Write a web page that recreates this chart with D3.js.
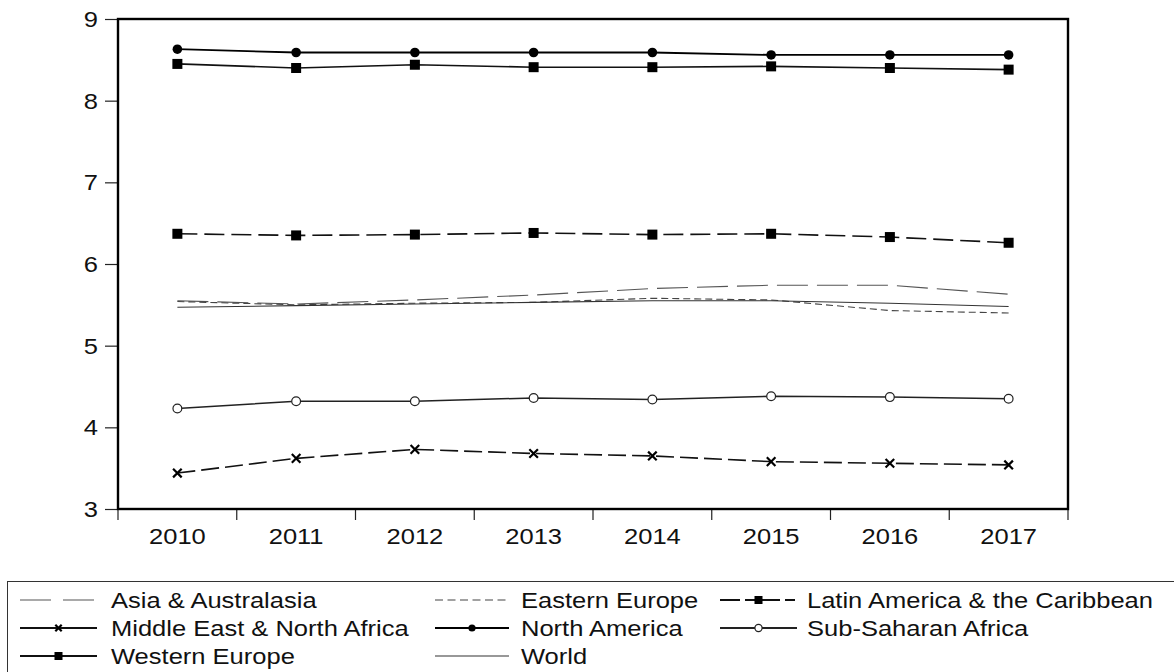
<!DOCTYPE html>
<html>
<head>
<meta charset="utf-8">
<script src="https://cdn.jsdelivr.net/npm/d3@7"></script>
<style>
  html, body { margin: 0; padding: 0; background: #fff; }
  svg { display: block; font-family: "Liberation Sans", Arial, sans-serif; }
</style>
</head>
<body>
<svg id="chart" width="1174" height="672"></svg>
<script>
// Regional index values, 2010–2017
const years = ["2010", "2011", "2012", "2013", "2014", "2015", "2016", "2017"];
const yTicks = [3, 4, 5, 6, 7, 8, 9];

const asiaAustralasia   = [5.55, 5.51, 5.56, 5.62, 5.70, 5.74, 5.74, 5.63];
const easternEurope     = [5.54, 5.50, 5.52, 5.53, 5.58, 5.56, 5.43, 5.40];
const latinAmerica      = [6.37, 6.35, 6.36, 6.38, 6.36, 6.37, 6.33, 6.26];
const middleEastNAfrica = [3.44, 3.62, 3.73, 3.68, 3.65, 3.58, 3.56, 3.54];
const northAmerica      = [8.63, 8.59, 8.59, 8.59, 8.59, 8.56, 8.56, 8.56];
const subSaharanAfrica  = [4.23, 4.32, 4.32, 4.36, 4.34, 4.38, 4.37, 4.35];
const westernEurope     = [8.45, 8.40, 8.44, 8.41, 8.41, 8.42, 8.40, 8.38];
const world             = [5.47, 5.49, 5.51, 5.53, 5.55, 5.55, 5.52, 5.48];

const seriesNames = [
  "Asia & Australasia", "Eastern Europe", "Latin America & the Caribbean",
  "Middle East & North Africa", "North America", "Sub-Saharan Africa",
  "Western Europe", "World"
];
const seriesValues = [
  asiaAustralasia, easternEurope, latinAmerica, middleEastNAfrica,
  northAmerica, subSaharanAfrica, westernEurope, world
];

// line styling per series (plot dash, legend dash)
const styles = [
  { stroke: "#555", width: 1.1, dash: "31,9",  legendDash: "31,12", marker: null },
  { stroke: "#444", width: 1.1, dash: "7,4",   legendDash: "8,4.5", marker: null },
  { stroke: "#111", width: 1.6, dash: "20,7",  legendDash: "20,5,10,5", marker: "square" },
  { stroke: "#111", width: 1.6, dash: "18,6",  legendDash: null,    marker: "cross" },
  { stroke: "#000", width: 1.8, dash: null,    legendDash: null,    marker: "dot" },
  { stroke: "#222", width: 1.5, dash: null,    legendDash: null,    marker: "ring" },
  { stroke: "#111", width: 1.6, dash: null,    legendDash: null,    marker: "square" },
  { stroke: "#333", width: 1.1, dash: null,    legendDash: null,    marker: null }
];

const FONT = 22;     // label size
const SX = 1.16;     // horizontal stretch of the lettering

const svg = d3.select("#chart");
const plot = { left: 118, right: 1068, top: 19, bottom: 509 };

const x = d3.scaleBand().domain(years).range([plot.left, plot.right]);
const y = d3.scaleLinear().domain([3, 9]).range([plot.bottom, plot.top]);
const cx = d => x(d) + x.bandwidth() / 2;

function label(g, px, py, txt, anchor) {
  return g.append("text")
    .attr("transform", `translate(${px},${py}) scale(${SX},1)`)
    .attr("text-anchor", anchor)
    .attr("font-size", FONT)
    .attr("fill", "#111")
    .text(txt);
}

// y axis
const yAxis = svg.append("g")
  .attr("transform", `translate(${plot.left},0)`)
  .call(d3.axisLeft(y).tickValues(yTicks).tickSize(13).tickFormat(() => ""));
yAxis.select(".domain").remove();
yAxis.selectAll("line").attr("stroke", "#222").attr("stroke-width", 1.2);
yTicks.forEach(t => label(yAxis, -20, y(t) + 8, String(t), "end"));

// x axis: ticks at category boundaries
const xAxis = svg.append("g")
  .attr("transform", `translate(0,${plot.bottom})`);
const boundaries = years.map(d => x(d)).concat([plot.right]);
xAxis.selectAll("line.tick").data(boundaries).join("line")
  .attr("class", "tick")
  .attr("x1", d => d).attr("x2", d => d)
  .attr("y1", 0).attr("y2", 11)
  .attr("stroke", "#222").attr("stroke-width", 1.2);
years.forEach(d => label(xAxis, cx(d), 35, d, "middle"));

// frame
svg.append("rect")
  .attr("x", plot.left).attr("y", plot.top)
  .attr("width", plot.right - plot.left).attr("height", plot.bottom - plot.top)
  .attr("fill", "none").attr("stroke", "#000").attr("stroke-width", 2.4);

// marker drawing
function drawMarker(g, type, px, py, size) {
  if (type === "square") {
    g.append("rect").attr("x", px - size).attr("y", py - size)
      .attr("width", 2 * size).attr("height", 2 * size).attr("fill", "#000");
  } else if (type === "dot") {
    g.append("circle").attr("cx", px).attr("cy", py).attr("r", size).attr("fill", "#000");
  } else if (type === "ring") {
    g.append("circle").attr("cx", px).attr("cy", py).attr("r", size)
      .attr("fill", "#fff").attr("stroke", "#222").attr("stroke-width", 1.2);
  } else if (type === "cross") {
    const s = size;
    g.append("path").attr("d", `M${px - s},${py - s}L${px + s},${py + s}M${px - s},${py + s}L${px + s},${py - s}`)
      .attr("stroke", "#000").attr("stroke-width", 2.2).attr("fill", "none");
  }
}
const plotSize = { square: 5, dot: 4.8, ring: 4.4, cross: 4.3 };
const legendSize = { square: 4, dot: 3.6, ring: 3.6, cross: 3.2 };

const line = d3.line().x((d, i) => cx(years[i])).y(d => y(d));

const linesG = svg.append("g");
seriesValues.forEach((vals, k) => {
  const st = styles[k];
  const g = linesG.append("g");
  g.append("path")
    .attr("d", line(vals))
    .attr("fill", "none")
    .attr("stroke", st.stroke)
    .attr("stroke-width", st.width)
    .attr("stroke-dasharray", st.dash);
  if (st.marker) {
    vals.forEach((v, i) => drawMarker(g, st.marker, cx(years[i]), y(v), plotSize[st.marker]));
  }
});

// legend
const legend = svg.append("g");
legend.append("rect")
  .attr("x", 7.5).attr("y", 581.5).attr("width", 1180).attr("height", 100)
  .attr("fill", "none").attr("stroke", "#333").attr("stroke-width", 1);

const colSample = [[20, 97], [435, 509], [720, 797]];
const colText = [111, 521, 807];
const rowY = [600, 628, 656];

seriesNames.forEach((name, k) => {
  const col = k % 3, row = Math.floor(k / 3);
  const st = styles[k];
  const [x1, x2] = colSample[col];
  const yy = rowY[row];
  const g = legend.append("g");
  g.append("line")
    .attr("x1", x1).attr("x2", x2).attr("y1", yy).attr("y2", yy)
    .attr("stroke", st.stroke)
    .attr("stroke-width", st.marker ? 2.2 : 1.2)
    .attr("stroke-dasharray", st.legendDash);
  if (st.marker) {
    drawMarker(g, st.marker, (x1 + x2) / 2, yy, legendSize[st.marker]);
  }
  label(g, colText[col], yy + 8, name, "start");
});
</script>
</body>
</html>
